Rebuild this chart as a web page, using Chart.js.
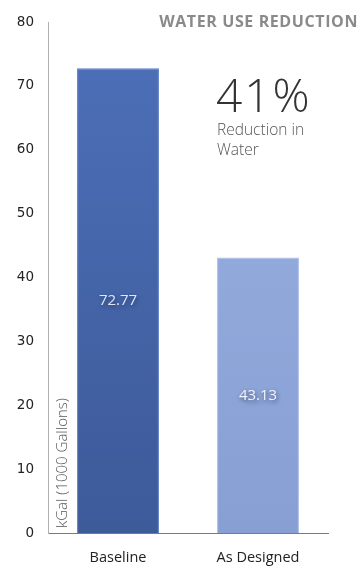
<!DOCTYPE html>
<html>
<head>
<meta charset="utf-8">
<script src="https://cdn.jsdelivr.net/npm/chart.js@4/dist/chart.umd.min.js"></script>
<style>
html,body{margin:0;padding:0;background:#fff;}
#wrap{position:relative;width:361px;height:580px;}
</style>
</head>
<body>
<div id="wrap"><canvas id="c" width="361" height="580"></canvas></div>
<script>
const categories = ["Baseline", "As Designed"];
const values = [72.77, 43.13];
const valueLabels = ["72.77", "43.13"];
const yTicks = [0, 10, 20, 30, 40, 50, 60, 70, 80];
const titleText = "WATER USE REDUCTION";
const bigText = "41%";
const subText = ["Reduction in", "Water"];
const axisTitle = "kGal (1000 Gallons)";

const topColors = ["#4d70b9", "#9ab1e2"];
const bottomColors = ["#3d5a99", "#889fd4"];

function barColor(ctx) {
  const chart = ctx.chart;
  const area = chart.chartArea;
  if (!area) return topColors[ctx.dataIndex];
  const g = chart.ctx.createLinearGradient(0, area.top, 0, area.bottom);
  g.addColorStop(0, topColors[ctx.dataIndex]);
  g.addColorStop(1, bottomColors[ctx.dataIndex]);
  return g;
}

const overlay = {
  id: 'overlay',
  afterDatasetsDraw(chart) {
    const c = chart.ctx;
    const meta = chart.getDatasetMeta(0);
    c.save();
    c.font = '15px "Open Sans"';
    c.textAlign = 'center';
    c.textBaseline = 'middle';
    meta.data.forEach((bar, i) => {
      const mid = (bar.y + bar.base) / 2;
      c.shadowColor = 'rgba(20,30,60,0.65)';
      c.shadowBlur = 4;
      c.shadowOffsetX = 1;
      c.shadowOffsetY = 2;
      c.fillStyle = i === 0 ? '#dfe7f7' : '#f0f4fc';
      c.fillText(valueLabels[i], bar.x, mid);
    });
    c.restore();
  },
  afterDraw(chart) {
    const c = chart.ctx;
    const hasLS = 'letterSpacing' in c;
    c.save();
    c.textBaseline = 'alphabetic';
    c.fillStyle = '#8a8a8a';
    c.font = 'bold 16px "Open Sans"';
    c.textAlign = 'right';
    if (hasLS) c.letterSpacing = '0.6px';
    c.fillText(titleText, 358, 27);
    c.textAlign = 'left';
    c.fillStyle = '#333';
    if (hasLS) c.letterSpacing = '2px';
    c.font = '300 46px "Open Sans"';
    c.fillText(bigText, 216, 112);
    if (hasLS) c.letterSpacing = '0px';
    c.fillStyle = '#555';
    c.font = '300 15.5px "Open Sans"';
    c.fillText(subText[0], 217, 135);
    c.fillText(subText[1], 217, 155);
    c.translate(67, 528);
    c.rotate(-Math.PI / 2);
    c.fillStyle = '#555';
    c.font = '300 15px "Open Sans"';
    c.textAlign = 'left';
    c.fillText(axisTitle, 0, 0);
    c.restore();
  }
};

new Chart(document.getElementById('c'), {
  type: 'bar',
  data: {
    labels: categories,
    datasets: [{
      data: values,
      backgroundColor: barColor,
      borderColor: ['#5a7cc2', '#a9bde8'],
      borderWidth: 1,
      barPercentage: 0.585,
      categoryPercentage: 1
    }]
  },
  options: {
    responsive: false,
    animation: false,
    devicePixelRatio: 1,
    layout: { padding: { top: 19, right: 33, left: 0, bottom: 0 } },
    plugins: { legend: { display: false }, tooltip: { enabled: false }, title: { display: false } },
    scales: {
      x: {
        grid: { display: false, drawTicks: false },
        border: { display: true, color: '#7a7a7a', width: 1 },
        ticks: { color: '#222', font: { family: '"Open Sans"', size: 14.5 }, padding: 16 },
        afterFit(s) { s.height = 47; }
      },
      y: {
        min: 0,
        max: 80,
        grid: { display: false, drawTicks: false },
        border: { display: true, color: '#b0b0b0', width: 1 },
        afterBuildTicks(s) { s.ticks = yTicks.map(v => ({ value: v })); },
        ticks: { color: '#222', font: { family: '"DejaVu Sans"', size: 13.5 }, padding: 14 },
        afterFit(s) { s.width = 48; }
      }
    }
  },
  plugins: [overlay]
});
</script>
</body>
</html>
